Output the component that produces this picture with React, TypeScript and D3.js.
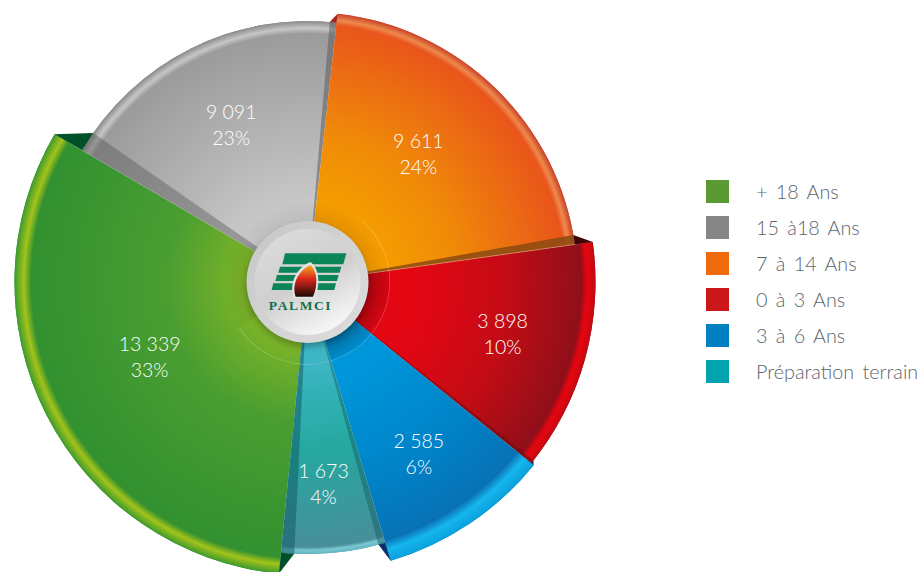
import React from "react";
import * as d3 from "d3";

const categories = ["+ 18 Ans", "15 à18 Ans", "7 à 14 Ans", "0 à 3 Ans", "3 à 6 Ans", "Préparation terrain"];
const areaLabels = ["13 339", "9 091", "9 611", "3 898", "2 585", "1 673"];
const shareLabels = ["33%", "23%", "24%", "10%", "6%", "4%"];
// The reference does not draw its slices in proportion: these are the sweeps as drawn, in degrees.
const drawnSweep = [114.7, 66.1, 75.6, 47, 34.4, 22.2];
const drawnReach = [293, 261, 270, 288, 291, 272];
const labelReach = [175, 175, 169, 202, 205, 203];
const labelTurn = [1.5, 0.8, -3.2, -0.5, 0.9, 1];
const legendColors = ["#5b9a32", "#868686", "#ee6a0c", "#cc1719", "#0080c0", "#00a3ae"];

const W = 918, H = 572, CX = 307.5, CY = 282;
const rad = (d: number) => (d * Math.PI) / 180;
const firstAngle = rad(185.6);

const bodyStops = [
  [["#7fb528", 0.2], ["#4a9e30", 0.48], ["#2f8f30", 1]],
  [["#cfcfcf", 0.2], ["#b6b6b6", 0.55], ["#989898", 1]],
  [["#f59c00", 0.3], ["#f08a08", 0.55], ["#e8501c", 1]],
  [["#e30613", 0.4], ["#c20c15", 0.7], ["#85101a", 1]],
  [["#0096da", 0.35], ["#0083c8", 0.7], ["#0b6cb0", 1]],
  [["#3cb6c4", 0.3], ["#25a89f", 0.62], ["#4a8d9a", 1]],
];
const rimStops = [
  ["#2f8f30", "#a3c31a", "#3c9a2e"],
  ["#989898", "#c6c6c6", "#8a8a8a"],
  ["#e8531e", "#ee8a4c", "#c8402a"],
  ["#85101a", "#e8050f", "#c00a12"],
  ["#0b6cb0", "#15b6ee", "#0aa0dc"],
  ["#4a8d9a", "#78c8d2", "#5fb7c2"],
];
const rimDepth = [17, 13, 12, 15, 22, 7];
// band widths (degrees) at the start and end of each slice, with their tints
const bandStart = [0, 4.5, 0, 0, 0, 1.5];
const bandEnd = [0, 1.5, 2, 0.7, 0, 2.8];
const bandStartFill = ["none", "#555555", "none", "none", "none", "#0d5560"];
const bandEndFill = ["none", "#555555", "#8a4a10", "#6a0a10", "none", "#0d5560"];
const foldFill = ["#00502a", "#00502a", "#a3261a", "#3f0608", "#0d2f6a", "#0d2f6a"];

const pie = d3.pie<number>().sort(null).value((d) => d).startAngle(firstAngle).endAngle(firstAngle + 2 * Math.PI);
const slices = pie(drawnSweep);
const polar = (a: number, r: number) => [r * Math.sin(a), -r * Math.cos(a)];
const arc = d3.arc();
const sector = (r0: number, r1: number, a0: number, a1: number) =>
  arc({ innerRadius: r0, outerRadius: r1, startAngle: a0, endAngle: a1 }) as string;

export default function App() {
  const n = slices.length;
  const folds = slices.map((s, i) => {
    const prev = (i + n - 1) % n;
    const a = s.startAngle;
    const big = Math.max(drawnReach[i], drawnReach[prev]);
    const small = Math.min(drawnReach[i], drawnReach[prev]);
    const bandOnThis = drawnReach[i] < drawnReach[prev];
    const w = bandOnThis ? rad(bandStart[i]) : -rad(bandEnd[prev]);
    return [polar(a, big), polar(a, small), polar(a + w, small)];
  });
  const seam = slices[3].startAngle;
  const seamFrom = polar(seam, 61);
  const seamTo = polar(seam, drawnReach[2]);

  return (
    <svg width={W} height={H} viewBox={`0 0 ${W} ${H}`} style={{ position: "absolute", left: 0, top: 0, background: "#fff" }}>
      <defs>
        {slices.map((_, i) => {
          const R = drawnReach[i];
          const d = rimDepth[i];
          return (
            <React.Fragment key={i}>
              <radialGradient id={`body${i}`} gradientUnits="userSpaceOnUse" cx={0} cy={0} r={R}>
                {bodyStops[i].map(([c, o], k) => (
                  <stop key={k} offset={o as number} stopColor={c as string} />
                ))}
              </radialGradient>
              <radialGradient id={`rim${i}`} gradientUnits="userSpaceOnUse" cx={0} cy={0} r={R}>
                <stop offset={(R - d) / R} stopColor={rimStops[i][0]} />
                <stop offset={(R - d * 0.55) / R} stopColor={rimStops[i][1]} />
                <stop offset={1} stopColor={rimStops[i][2]} />
              </radialGradient>
            </React.Fragment>
          );
        })}
        <radialGradient id="halo" gradientUnits="userSpaceOnUse" cx={0} cy={0} r={82}>
          <stop offset={0.72} stopColor="#000" stopOpacity={0.22} />
          <stop offset={1} stopColor="#000" stopOpacity={0.06} />
        </radialGradient>
        <radialGradient id="haloFaint" gradientUnits="userSpaceOnUse" cx={0} cy={0} r={82}>
          <stop offset={0.72} stopColor="#000" stopOpacity={0.08} />
          <stop offset={1} stopColor="#000" stopOpacity={0} />
        </radialGradient>
        <linearGradient id="ring" x1="0" y1="0" x2="1" y2="1">
          <stop offset={0} stopColor="#c6c6c6" />
          <stop offset={1} stopColor="#dedede" />
        </linearGradient>
        <linearGradient id="disc" x1="0.2" y1="0" x2="0.75" y2="1">
          <stop offset={0} stopColor="#dcdcdc" />
          <stop offset={0.5} stopColor="#cfcfcf" />
          <stop offset={1} stopColor="#fbfbfb" />
        </linearGradient>
        <linearGradient id="seed" x1="0" y1="0" x2="0" y2="1">
          <stop offset={0} stopColor="#f6a81e" />
          <stop offset={0.45} stopColor="#d8251c" />
          <stop offset={1} stopColor="#1c0a06" />
        </linearGradient>
        <filter id="soft" x="-30%" y="-30%" width="160%" height="160%">
          <feGaussianBlur stdDeviation="3" />
        </filter>
      </defs>

      <g transform={`translate(${CX},${CY})`}>
        {slices.map((s, i) => {
          const R = drawnReach[i];
          return (
            <g key={i}>
              <path d={sector(0, R, s.startAngle, s.endAngle)} fill={`url(#body${i})`} />
              <path d={sector(R - rimDepth[i], R, s.startAngle, s.endAngle)} fill={`url(#rim${i})`} />
              {bandStart[i] > 0 && (
                <path d={sector(0, R, s.startAngle, s.startAngle + rad(bandStart[i]))} fill={bandStartFill[i]} opacity={0.42} />
              )}
              {bandEnd[i] > 0 && (
                <path d={sector(0, R, s.endAngle - rad(bandEnd[i]), s.endAngle)} fill={bandEndFill[i]} opacity={i === 2 ? 0.85 : 0.5} />
              )}
            </g>
          );
        })}
        {folds.map((p, i) => (
          <polygon key={i} points={p.map((q) => q.join(",")).join(" ")} fill={foldFill[i]} />
        ))}
        <line x1={seamFrom[0]} y1={seamFrom[1]} x2={seamTo[0]} y2={seamTo[1]} stroke="#e8b48a" strokeWidth={0.7} opacity={0.8} />

        <path d={sector(0, 82, slices[3].startAngle, slices[5].startAngle)} fill="url(#halo)" />
        <path d={sector(0, 82, slices[5].startAngle, rad(236))} fill="url(#haloFaint)" />
        <path d={sector(82, 82.6, rad(42), rad(236))} fill="#fff" opacity={0.3} />
        <circle r={61} cy={4} fill="#000" opacity={0.25} filter="url(#soft)" />
        <circle r={61} fill="url(#ring)" />
        <circle r={53} fill="url(#disc)" />
      </g>

      <g transform="translate(230,200) scale(0.3333)" fill="#0b8457">
        <polygon points="165,160 349,160 340,193 157,193" />
        <polygon points="150,200 334,200 329,218 145,218" />
        <polygon points="141,225 326,225 321,243 136,243" />
        <polygon points="130,250 318,250 313,270 125,270" />
        <path d="M241,186 C268,205 272,255 254,295 L192,295 C176,255 196,205 241,186 Z" fill="#e4e4e4" />
        <path d="M241,195 C262,212 265,255 249,290 L197,290 C184,255 204,212 241,195 Z" fill="url(#seed)" />
      </g>
      <text x={300.5} y={309.5} textAnchor="middle" fontFamily="'Liberation Serif', serif" fontWeight={700} fontSize={13.5} letterSpacing={1.6} fill="#14704c">
        PALMCI
      </text>

      <g transform={`translate(${CX},${CY})`} fontFamily="Lato, sans-serif" fontWeight={300} fontSize={19.5} fill="#fff" textAnchor="middle">
        {slices.map((s, i) => {
          const [x, y] = polar((s.startAngle + s.endAngle) / 2 + rad(labelTurn[i]), labelReach[i]);
          return (
            <g key={i}>
              <text x={x} y={y - 6}>{areaLabels[i]}</text>
              <text x={x} y={y + 20}>{shareLabels[i]}</text>
            </g>
          );
        })}
      </g>

      <g>
        {categories.map((c, i) => (
          <g key={c} transform={`translate(706,${180 + i * 36})`}>
            <rect width={23} height={23} fill={legendColors[i]} />
            <text x={50} y={18.5} fontFamily="Lato, sans-serif" fontWeight={300} fontSize={19.8} wordSpacing={3} fill="#5a666c">{c}</text>
          </g>
        ))}
      </g>
    </svg>
  );
}
